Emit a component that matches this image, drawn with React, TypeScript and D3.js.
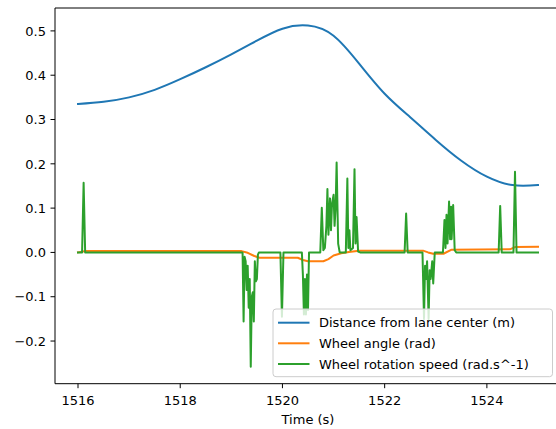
import React from 'react'
import * as d3 from 'd3'

// time (s), value
const distancePoints: [number, number][] = [
  [1516.0, 0.335], [1516.5, 0.34], [1517.0, 0.35], [1517.5, 0.367], [1518.0, 0.391],
  [1518.5, 0.418], [1519.0, 0.447], [1519.5, 0.478], [1520.0, 0.505], [1520.5, 0.512],
  [1521.0, 0.489], [1521.5, 0.426], [1522.0, 0.358], [1522.5, 0.305], [1523.0, 0.254],
  [1523.5, 0.207], [1524.0, 0.171], [1524.5, 0.152], [1525.0, 0.152]
]

const anglePoints: [number, number][] = [
  [1516.0, 0.0], [1516.15, 0.003], [1519.2, 0.003], [1519.3, 0.0], [1519.45, -0.008],
  [1519.55, -0.012], [1520.3, -0.012], [1520.4, -0.017], [1520.5, -0.02], [1520.8, -0.02],
  [1520.9, -0.015], [1521.0, -0.007], [1521.15, -0.002], [1521.3, 0.001], [1521.5, 0.004],
  [1522.75, 0.004], [1522.85, 0.0], [1522.95, -0.003], [1523.15, -0.003], [1523.3, 0.006],
  [1524.45, 0.007], [1524.55, 0.012], [1525.0, 0.013]
]

const speedPoints: [number, number][] = [
  [1516.0, 0], [1516.08, 0], [1516.11, 0.157], [1516.14, 0],
  [1519.22, 0], [1519.24, -0.156], [1519.26, -0.01], [1519.28, -0.02], [1519.3, -0.085],
  [1519.32, -0.03], [1519.34, -0.125], [1519.36, -0.06], [1519.38, -0.258], [1519.4, -0.1],
  [1519.42, -0.09], [1519.44, -0.156], [1519.46, -0.02], [1519.48, -0.065], [1519.5, -0.06],
  [1519.52, -0.005], [1519.54, 0],
  [1519.96, 0], [1519.99, -0.145], [1520.02, 0],
  [1520.38, 0], [1520.4, -0.05], [1520.42, -0.14], [1520.44, -0.06], [1520.46, -0.14],
  [1520.48, -0.05], [1520.5, -0.13], [1520.52, 0],
  [1520.74, 0], [1520.77, 0.101], [1520.8, 0.005], [1520.83, 0.01], [1520.86, 0.06],
  [1520.88, 0.143], [1520.9, 0.04], [1520.93, 0.122], [1520.95, 0.05], [1520.97, 0.11],
  [1521.0, 0.13], [1521.02, 0.06], [1521.04, 0.1], [1521.06, 0.203], [1521.09, 0.02],
  [1521.12, 0], [1521.24, 0], [1521.27, 0.167], [1521.29, 0.01], [1521.31, 0.05],
  [1521.33, 0.005], [1521.38, 0.01], [1521.41, 0.188], [1521.43, 0.02], [1521.45, 0.08],
  [1521.48, 0.002], [1521.52, 0],
  [1522.39, 0], [1522.42, 0.088], [1522.45, 0],
  [1522.74, 0], [1522.77, -0.15], [1522.79, -0.03], [1522.81, -0.06], [1522.83, -0.02],
  [1522.86, -0.15], [1522.88, -0.04], [1522.9, -0.06], [1522.93, -0.02], [1522.95, -0.07],
  [1522.98, 0],
  [1523.14, 0], [1523.17, 0.073], [1523.19, 0.01], [1523.21, 0.085], [1523.23, 0.02],
  [1523.26, 0.115], [1523.28, 0.03], [1523.3, 0.103], [1523.31, 0.03], [1523.34, 0.107],
  [1523.37, 0.005], [1523.4, 0],
  [1524.23, 0], [1524.26, 0.105], [1524.29, 0],
  [1524.52, 0], [1524.55, 0.182], [1524.58, 0], [1525.0, 0]
]

const xTicks = [1516, 1518, 1520, 1522, 1524]
const yTicks = [-0.2, -0.1, 0.0, 0.1, 0.2, 0.3, 0.4, 0.5]
const seriesNames = ['Distance from lane center (m)', 'Wheel angle (rad)', 'Wheel rotation speed (rad.s^-1)']
const seriesColors = ['#1f77b4', '#ff7f0e', '#2ca02c']

const W = 556
const H = 429
const margin = { left: 55, top: 8, right: 561, bottom: 383.7 }
const font = 'DejaVu Sans, sans-serif'

export default function App() {
  const x = d3.scaleLinear().domain([1515.55, 1525.45]).range([margin.left, margin.right])
  const y = d3.scaleLinear().domain([-0.2963, 0.5517]).range([margin.bottom, margin.top])

  const line = d3.line<[number, number]>()
    .x(d => x(d[0]))
    .y(d => y(d[1]))

  const smooth = d3.line<[number, number]>()
    .x(d => x(d[0]))
    .y(d => y(d[1]))
    .curve(d3.curveNatural)

  const paths = [smooth(distancePoints), line(anglePoints), line(speedPoints)]

  const lgX = 273
  const lgY = 309
  const rowY = [322.7, 343.3, 364]

  return (
    <svg width={W} height={H} style={{ position: 'absolute', left: 0, top: 0, background: '#fff' }}
      fontFamily={font}>
      <rect x={0} y={0} width={W} height={H} fill="#fff" />

      {paths.map((p, i) => (
        <path key={i} d={p || ''} fill="none" stroke={seriesColors[i]} strokeWidth={2}
          strokeLinejoin="round" strokeLinecap="square" />
      ))}

      {/* spines */}
      <line x1={margin.left} x2={margin.left} y1={margin.top} y2={margin.bottom} stroke="#000" strokeWidth={1} />
      <line x1={margin.left} x2={margin.right} y1={margin.bottom} y2={margin.bottom} stroke="#000" strokeWidth={1} />
      <line x1={margin.left} x2={margin.right} y1={margin.top} y2={margin.top} stroke="#000" strokeWidth={1} />
      <line x1={margin.right} x2={margin.right} y1={margin.top} y2={margin.bottom} stroke="#000" strokeWidth={1} />

      {/* x axis */}
      {xTicks.map(t => (
        <g key={t}>
          <line x1={x(t)} x2={x(t)} y1={margin.bottom} y2={margin.bottom + 4.5} stroke="#000" />
          <text x={x(t)} y={405} fontSize={13} textAnchor="middle" fill="#000">{t}</text>
        </g>
      ))}
      <text x={(margin.left + margin.right) / 2} y={424} fontSize={13} textAnchor="middle" fill="#000">Time (s)</text>

      {/* y axis */}
      {yTicks.map(t => (
        <g key={t}>
          <line x1={margin.left - 4.5} x2={margin.left} y1={y(t)} y2={y(t)} stroke="#000" />
          <text x={46} y={y(t) + 4.7} fontSize={13} textAnchor="end" fill="#000">
            {t < 0 ? '\u2212' + Math.abs(t).toFixed(1) : t.toFixed(1)}
          </text>
        </g>
      ))}

      {/* legend */}
      <rect x={lgX} y={lgY} width={279.5} height={67.7} rx={3} fill="#fff" fillOpacity={0.8}
        stroke="#cccccc" strokeWidth={1} />
      {seriesNames.map((name, i) => (
        <g key={name}>
          <line x1={278} x2={309.5} y1={rowY[i]} y2={rowY[i]} stroke={seriesColors[i]} strokeWidth={2} />
          <text x={319} y={rowY[i] + 4.7} fontSize={13} fill="#000">{name}</text>
        </g>
      ))}
    </svg>
  )
}
